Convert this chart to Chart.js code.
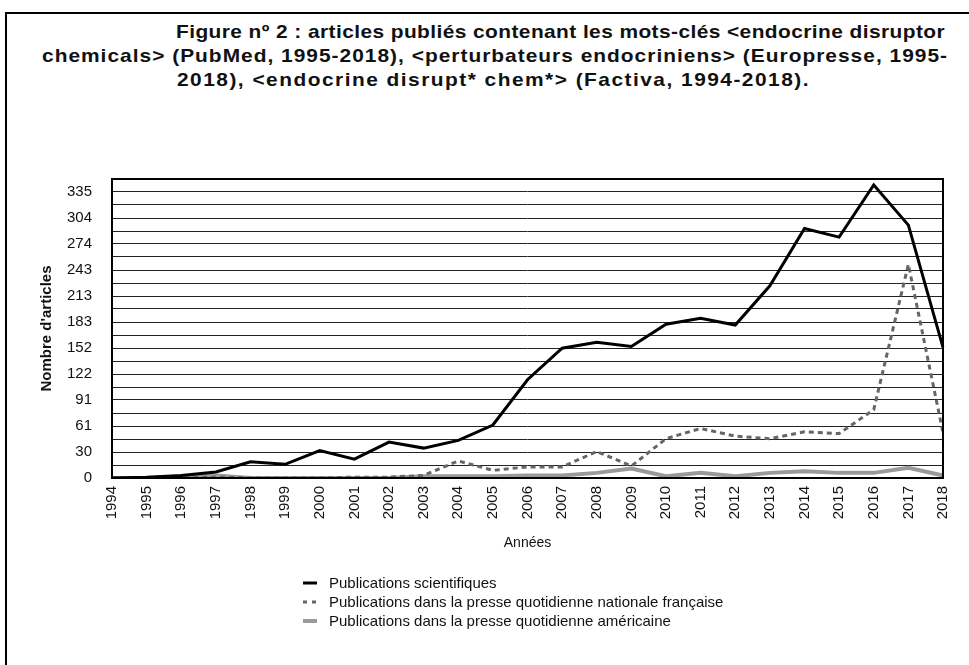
<!DOCTYPE html>
<html lang="fr">
<head>
<meta charset="utf-8">
<title>Figure nº 2</title>
<script src="https://cdn.jsdelivr.net/npm/chart.js@4.4.1/dist/chart.umd.min.js"></script>
<style>
  html, body { margin: 0; padding: 0; background: #fff; overflow: hidden; }
  body { width: 969px; height: 665px; position: relative; font-family: 'Liberation Sans', Arial, sans-serif; }
  .frame {
    position: absolute; left: 5px; top: 12px; width: 2000px; height: 2000px;
    border-left: 2px solid #000; border-top: 2px solid #000;
  }
  .tline {
    position: absolute; white-space: nowrap; font-weight: bold; font-size: 19px; line-height: 24px;
    color: #111; transform-origin: 0 0;
  }
  #chartWrap { position: absolute; left: 0; top: 150px; width: 969px; height: 410px; }
  .legend { position: absolute; left: 303px; top: 573px; font-size: 15px; color: #111; }
  .legend div { height: 19px; line-height: 19px; display: flex; align-items: center; }
  .legend canvas { margin-right: 12px; }
</style>
</head>
<body>
<div class="frame"></div>
<div id="title"></div>
<div id="chartWrap"><canvas id="chart"></canvas></div>
<div class="legend" id="legend"></div>

<script>
'use strict';

const titleLines = [
  'Figure nº 2 : articles publiés contenant les mots-clés <endocrine disruptor',
  'chemicals> (PubMed, 1995-2018), <perturbateurs endocriniens> (Europresse, 1995-',
  '2018), <endocrine disrupt* chem*> (Factiva, 1994-2018).',
];

const years = ['1994', '1995', '1996', '1997', '1998', '1999', '2000', '2001', '2002', '2003', '2004', '2005',
  '2006', '2007', '2008', '2009', '2010', '2011', '2012', '2013', '2014', '2015', '2016', '2017', '2018'];

// PubMed
const scientific = [0, 1, 3, 7, 19, 16, 32, 22, 42, 35, 44, 62, 115, 152, 159, 154, 180, 187, 179, 225, 292, 282, 343, 296, 153];
// Europresse
const frenchPress = [0, 0, 0, 1, 0, 0, 0, 1, 1, 3, 20, 9, 13, 13, 31, 14, 46, 58, 49, 46, 54, 52, 80, 250, 53];
// Factiva
const usPress = [0, 0, 1, 3, 0, 0, 0, 0, 0, 2, 2, 2, 3, 3, 6, 11, 2, 6, 2, 6, 8, 6, 6, 12, 3];

const seriesNames = [
  'Publications scientifiques',
  'Publications dans la presse quotidienne nationale française',
  'Publications dans la presse quotidienne américaine',
];

const yMax = 350;
const yGridCount = 23;
const yTickLabels = ['0', '30', '61', '91', '122', '152', '183', '213', '243', '274', '304', '335'];

const STYLES = [
  { color: '#000000', width: 3, dash: [] },
  { color: '#666666', width: 3, dash: [5, 4] },
  { color: '#9a9a9a', width: 4, dash: [] },
];

const FONT = "'Liberation Sans', Arial, sans-serif";

// title: lines laid out like the source figure (left edge, width, top)
const TITLE_BOXES = [
  { left: 176, width: 769, top: 20 },
  { left: 42, width: 906, top: 44 },
  { left: 177, width: 633, top: 68 },
];
const titleEl = document.getElementById('title');
titleLines.forEach((txt, i) => {
  const el = document.createElement('div');
  el.className = 'tline';
  el.textContent = txt;
  el.style.left = TITLE_BOXES[i].left + 'px';
  el.style.top = TITLE_BOXES[i].top + 'px';
  titleEl.appendChild(el);
  const s = 1.1;
  const w = el.getBoundingClientRect().width;
  const ls = (TITLE_BOXES[i].width / s - w) / txt.length;
  el.style.letterSpacing = ls + 'px';
  el.style.transform = 'scaleX(' + s + ')';
});

// box around the plot area
const plotBorder = {
  id: 'plotBorder',
  afterDraw(chart) {
    const { ctx, chartArea: a } = chart;
    ctx.save();
    ctx.strokeStyle = '#000';
    ctx.lineWidth = 2;
    ctx.strokeRect(a.left, a.top, a.right - a.left, a.bottom - a.top);
    ctx.restore();
  }
};

const seriesData = [scientific, frenchPress, usPress];

new Chart(document.getElementById('chart').getContext('2d'), {
  type: 'line',
  data: {
    labels: years,
    datasets: seriesData.map((d, i) => ({
      label: seriesNames[i],
      data: d,
      borderColor: STYLES[i].color,
      borderWidth: STYLES[i].width,
      borderDash: STYLES[i].dash,
      pointRadius: 0,
      tension: 0,
      fill: false,
      borderJoinStyle: 'miter',
    }))
  },
  options: {
    responsive: true,
    maintainAspectRatio: false,
    animation: false,
    layout: { padding: { left: 0, right: 22, top: 24, bottom: 0 } },
    plugins: {
      legend: { display: false },
      tooltip: { enabled: false },
    },
    scales: {
      x: {
        offset: false,
        grid: { display: false, drawTicks: false },
        border: { display: false },
        ticks: {
          color: '#111',
          font: { family: FONT, size: 15 },
          minRotation: 90,
          maxRotation: 90,
          autoSkip: false,
          padding: 8,
        },
        title: {
          display: true,
          text: 'Années',
          color: '#111',
          font: { family: FONT, size: 14 },
          padding: { top: 4, bottom: 8 },
        },
        afterFit: (s) => { s.height = 82; },
      },
      y: {
        min: 0,
        max: yMax,
        afterBuildTicks: (s) => {
          const t = [];
          for (let i = 0; i <= yGridCount; i++) t.push({ value: i * yMax / yGridCount });
          s.ticks = t;
        },
        grid: { color: '#222', lineWidth: 1, drawTicks: false },
        border: { display: false },
        ticks: {
          color: '#111',
          font: { family: FONT, size: 15 },
          autoSkip: false,
          padding: 20,
          callback: (v, i) => (i % 2 === 0 && i / 2 < yTickLabels.length) ? yTickLabels[i / 2] : '',
        },
        title: {
          display: true,
          text: "Nombre d'articles",
          color: '#111',
          font: { family: FONT, size: 15, weight: 'bold' },
          padding: { top: 38, bottom: 0 },
        },
        afterFit: (s) => { s.width = 112; },
      },
    },
  },
  plugins: [plotBorder],
});

// legend
const legendEl = document.getElementById('legend');
seriesNames.forEach((name, i) => {
  const row = document.createElement('div');
  const c = document.createElement('canvas');
  c.width = 14; c.height = 10;
  const g = c.getContext('2d');
  g.strokeStyle = STYLES[i].color;
  g.lineWidth = STYLES[i].width;
  g.setLineDash(i === 1 ? [4, 5] : []);
  g.beginPath(); g.moveTo(0, 5); g.lineTo(14, 5); g.stroke();
  row.appendChild(c);
  row.appendChild(document.createTextNode(name));
  legendEl.appendChild(row);
});
</script>
</body>
</html>
